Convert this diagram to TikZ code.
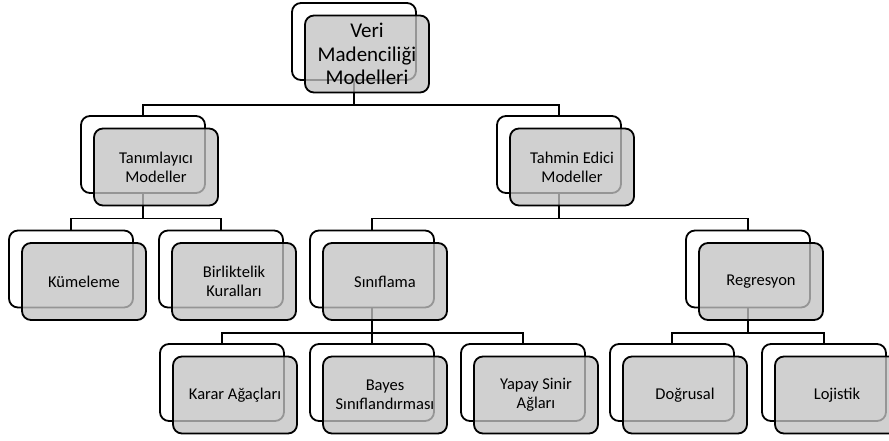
\documentclass[tikz,border=0pt]{standalone}
\usepackage{fontspec}
\setmainfont{Carlito}
\usetikzlibrary{backgrounds}
\tikzset{
  backbox/.style={draw, line width=1.8pt, rounded corners=9pt, fill=white,
    minimum width=124pt, minimum height=77pt, inner sep=0pt},
  frontbox/.style={backbox, fill=black!24, fill opacity=0.77, text opacity=1,
    align=center, font=\fontsize{16.5}{19}\selectfont},
  link/.style={line width=1.8pt}
}
\begin{document}
\begin{tikzpicture}[x=1pt, y=-1pt]
	\useasboundingbox (0,0) rectangle (889,440);
	% root box
	\node[backbox] (root-bk) at (354,41.5) {};
	\node[frontbox, font=\fontsize{21}{23.5}\selectfont] (root) at (367,54) {Veri\\Madenciliği\\Modelleri};
	% the other boxes, (x,y) = centre of the back box
	\foreach \n/\x/\y/\t in {tan/143/154.5/{Tanımlayıcı\\Modeller}, tah/559/154.5/{Tahmin Edici\\Modeller},
		kum/71/269/{Kümeleme}, bir/221/269/{Birliktelik\\Kuralları}, sin/372/269/{Sınıflama}, reg/748/269/{Regresyon},
		kar/222/382.5/{Karar Ağaçları}, bay/372/382.5/{Bayes\\Sınıflandırması}, yap/523/382.5/{Yapay Sinir\\Ağları},
		dog/672/382.5/{Doğrusal}, loj/824/382.5/{Lojistik}} {
		\node[backbox] (\n-bk) at (\x,\y) {};
		\node[frontbox] (\n) at (\x+13,\y+12.5) {\t};
	}
	\coordinate (bar1) at (0,105);
	\coordinate (bar2) at (0,218.5);
	\coordinate (bar3) at (0,333);
	\begin{pgfonlayer}{background}
		\foreach \p/\c/\b in {root/tan/bar1, root/tah/bar1, tan/kum/bar2, tan/bir/bar2, tah/sin/bar2, tah/reg/bar2,
			sin/kar/bar3, sin/bay/bar3, sin/yap/bar3, reg/dog/bar3, reg/loj/bar3}
			\draw[link] (\p-bk.south) -- (\p-bk.south |- \b) -| (\c-bk.north);
	\end{pgfonlayer}
\end{tikzpicture}
\end{document}
